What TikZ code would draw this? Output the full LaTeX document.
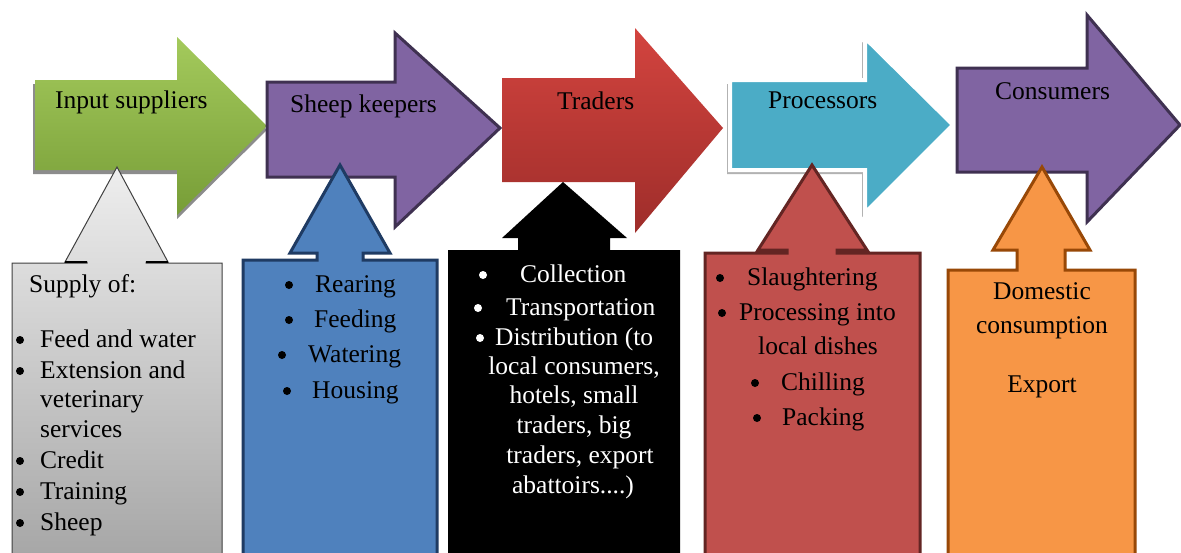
\documentclass[tikz,border=0pt]{standalone}
\usepackage{fontspec}
\setmainfont{Liberation Serif}
\definecolor{grnT}{HTML}{A4CA5C}
\definecolor{grnB}{HTML}{779D37}
\definecolor{purp}{HTML}{8064A2}
\definecolor{purpD}{HTML}{3F3151}
\definecolor{redT}{HTML}{D3443F}
\definecolor{redB}{HTML}{9E2D2A}
\definecolor{cyanA}{HTML}{4BACC6}
\definecolor{greyT}{HTML}{EEEEEE}
\definecolor{greyB}{HTML}{A6A6A6}
\definecolor{greyD}{HTML}{404040}
\definecolor{blu}{HTML}{4F81BD}
\definecolor{bluD}{HTML}{1F3B63}
\definecolor{rc}{HTML}{C0504D}
\definecolor{rcD}{HTML}{632523}
\definecolor{org}{HTML}{F79646}
\definecolor{orgD}{HTML}{984807}
\tikzset{
  txt/.style={font=\fontsize{25.5}{30}\selectfont, inner sep=0pt, anchor=base west},
  ctxt/.style={txt, anchor=base},
  dot/.style={circle, fill=black, inner sep=0pt, minimum size=8pt},
  shadowgrey/.style={fill=black!45},
}
\begin{document}
\begin{tikzpicture}[x=1pt,y=-1pt]
\useasboundingbox (0,0) rectangle (1181,552);
\clip (0,0) rectangle (1181,552);
\fill[white] (0,0) rectangle (1181,552);

% ---- big right arrows ----
% green: Input suppliers
\fill[shadowgrey] (33,84) -- (177,84) -- (177,41) -- (267,130) -- (177,219) -- (177,174) -- (33,174) -- cycle;
\shade[top color=grnT, bottom color=grnB] (35,80) -- (177,80) -- (177,37) -- (267,126) -- (177,215) -- (177,170) -- (35,170) -- cycle;
% purple: Sheep keepers
\draw[purpD, line width=3pt, fill=purp, line join=miter] (267,82) -- (395,82) -- (395,33) -- (500,128) -- (395,227) -- (395,177) -- (267,177) -- cycle;
% red: Traders
\shade[top color=redT, bottom color=redB] (502,78) -- (635,78) -- (635,28) -- (723,128) -- (635,233) -- (635,182) -- (502,182) -- cycle;
% cyan: Processors
\fill[black!30] (727,84) -- (862,84) -- (862,42) -- (950,129) -- (862,217) -- (862,174) -- (727,174) -- cycle;
\draw[white, line width=4pt, fill=cyanA] (730,80) -- (865,80) -- (865,38) -- (953,125) -- (865,213) -- (865,170) -- (730,170) -- cycle;
% purple: Consumers
\draw[purpD, line width=3pt, fill=purp] (957,68) -- (1087,68) -- (1087,15) -- (1180,125) -- (1087,222) -- (1087,172) -- (957,172) -- cycle;

\node[txt] (t1) at (55,108) {Input suppliers};
\node[txt] (t2) at (290,112) {Sheep keepers};
\node[txt] (t3) at (557,109) {Traders};
\node[txt] (t4) at (768,108) {Processors};
\node[txt] (t5) at (995,99) {Consumers};

% ---- up-arrow callouts ----
% grey
\shade[top color=greyT, bottom color=greyB, draw=greyD, line width=1pt]
  (12,560) -- (12,263) -- (87,263) -- (87,262) -- (65,262) -- (117,167) -- (168,262) -- (146,262) -- (146,263) -- (222,263) -- (222,560) -- cycle;
\draw[black, line width=2pt] (65,262) -- (87,262) (146,262) -- (168,262);
% blue
\draw[bluD, line width=3pt, fill=blu]
  (243,560) -- (243,260) -- (317,260) -- (317,253) -- (290,253) -- (340,165) -- (390,253) -- (363,253) -- (363,260) -- (437,260) -- (437,560) -- cycle;
% black
\fill[black]
  (448,560) -- (448,250) -- (518,250) -- (518,238) -- (502,238) -- (563,182) -- (627,238) -- (610,238) -- (610,250) -- (680,250) -- (680,560) -- cycle;
% red
\draw[rcD, line width=3pt, fill=rc]
  (705,560) -- (705,253) -- (787,253) -- (787,250) -- (758,250) -- (812,165) -- (867,250) -- (837,250) -- (837,253) -- (920,253) -- (920,560) -- cycle;
% orange
\draw[orgD, line width=3pt, fill=org]
  (948,560) -- (948,270) -- (1017,270) -- (1017,250) -- (993,250) -- (1042,167) -- (1090,250) -- (1065,250) -- (1065,270) -- (1135,270) -- (1135,560) -- cycle;

% grey text
\node[txt] (g0) at (29,292) {Supply of:};
\node[dot] (gb1) at (20,340) {};
\node[txt] (g1) at (40,347) {Feed and water};
\node[dot] (gb2) at (20,371) {};
\node[txt] (g2) at (40,378) {Extension and};
\node[txt] (g3) at (40,407) {veterinary};
\node[txt] (g4) at (40,437) {services};
\node[dot] (gb5) at (20,461) {};
\node[txt] (g5) at (40,468) {Credit};
\node[dot] (gb6) at (20,492) {};
\node[txt] (g6) at (40,499) {Training};
\node[dot] (gb7) at (20,523) {};
\node[txt] (g7) at (40,530) {Sheep};

% blue text
\node[dot] (sb1) at (289,285) {};
\node[txt] (s1) at (315,292) {Rearing};
\node[dot] (sb2) at (289,320) {};
\node[txt] (s2) at (314,327) {Feeding};
\node[dot] (sb3) at (282,355) {};
\node[txt] (s3) at (308,362) {Watering};
\node[dot] (sb4) at (287,391) {};
\node[txt] (s4) at (312,398) {Housing};

% black text
\begin{scope}[every node/.append style={text=white}]
\node[dot, fill=white] (kb1) at (483,275) {};
\node[txt] (k1) at (520,282) {Collection};
\node[dot, fill=white] (kb2) at (478,308) {};
\node[txt] (k2) at (506,315) {Transportation};
\node[dot, fill=white] (kb3) at (480,338) {};
\node[txt] (k3) at (495,345) {Distribution (to};
\node[ctxt] (k4) at (574,374) {local consumers,};
\node[ctxt] (k5) at (574,403) {hotels, small};
\node[ctxt] (k6) at (574,433) {traders, big};
\node[ctxt] (k7) at (580,463) {traders, export};
\node[ctxt] (k8) at (573,493) {abattoirs....)};
\end{scope}

% red text
\node[dot] (pb1) at (720,278) {};
\node[txt] (p1) at (747,285) {Slaughtering};
\node[dot] (pb2) at (722,313) {};
\node[txt] (p2) at (739,320) {Processing into};
\node[txt] (p3) at (758,354) {local dishes};
\node[dot] (pb4) at (755,383) {};
\node[txt] (p4) at (781,390) {Chilling};
\node[dot] (pb5) at (757,418) {};
\node[txt] (p5) at (782,425) {Packing};

% orange text
\node[ctxt] (c1) at (1042,299) {Domestic};
\node[ctxt] (c2) at (1042,333) {consumption};
\node[ctxt] (c3) at (1042,392) {Export};
\end{tikzpicture}
\end{document}
